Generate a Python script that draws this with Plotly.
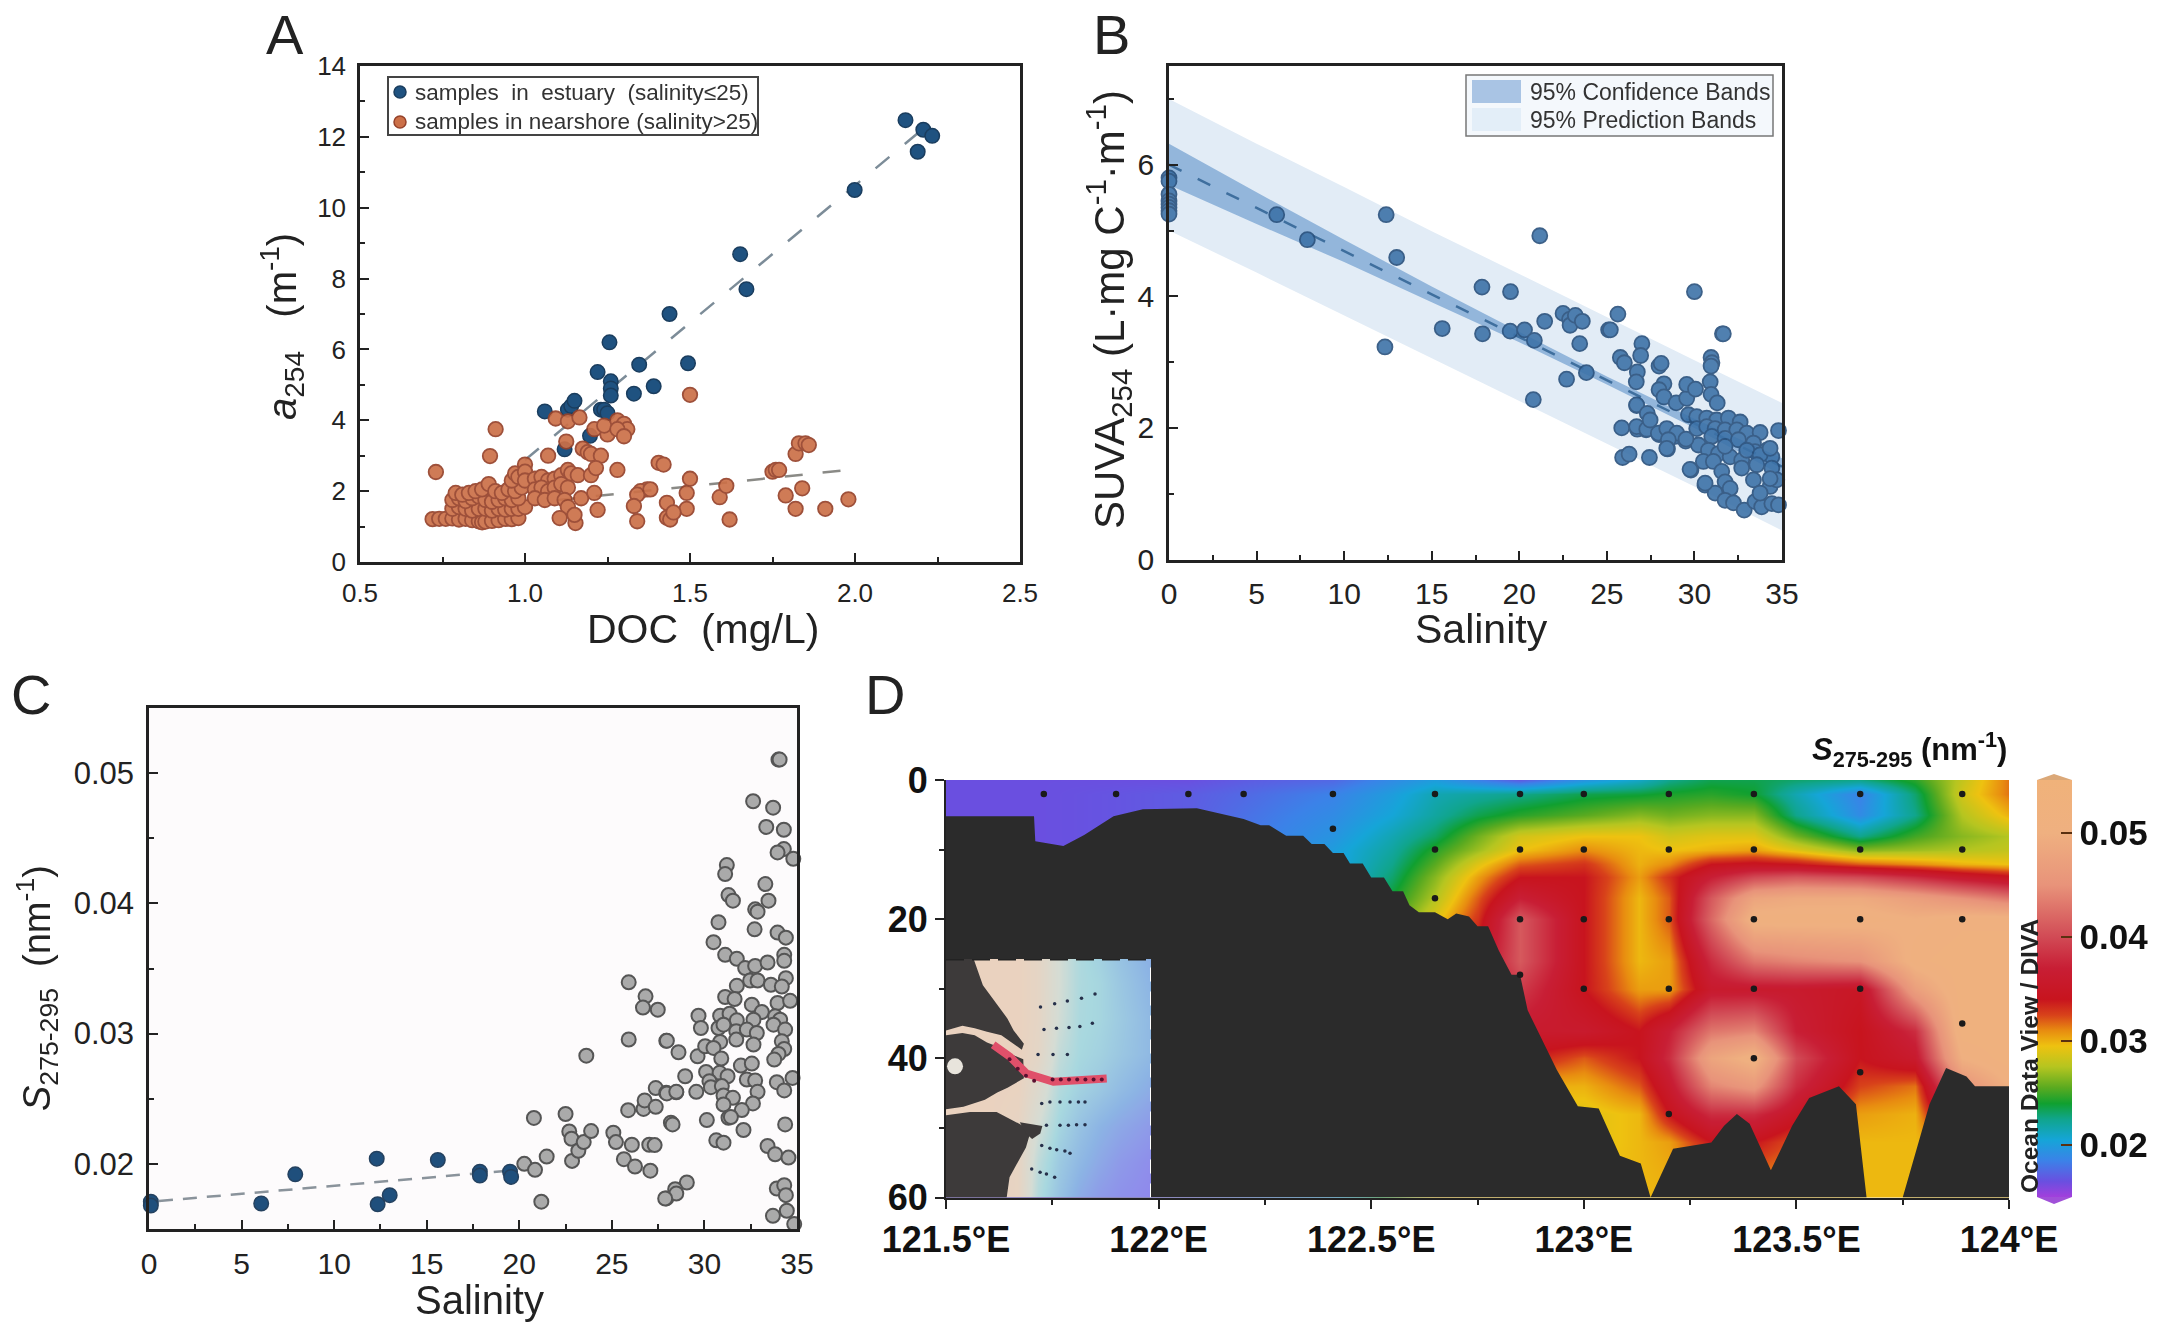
import plotly.graph_objects as go

W, H = 2162, 1330
FONT = "Liberation Sans"
INK = "#222222"

# panel A
est_doc = [1.06,1.13,1.14,1.15,1.12,1.197,1.22,1.256,1.26,1.26,1.26,1.23,1.24,1.25,1.33,1.346,1.39,1.438,1.494,1.652,1.671,1.999,2.153,2.19,2.207,2.234]
est_a254 = [4.25,4.3,4.4,4.55,3.18,3.56,5.36,6.2,5.1,4.9,4.7,4.3,4.3,4.2,4.75,5.57,4.96,7.0,5.61,8.69,7.7,10.5,12.47,11.58,12.2,12.03]
near_doc = [.72,.74,.76,.78,.80,.82,.84,.86,.87,.88,.9,.92,.94,.96,.98,
            .78,.8,.82,.84,.86,.88,.9,.92,.94,.96,.98,1.0,
            .78,.8,.82,.84,.86,.88,.9,.92,.94,.96,.98,
            .79,.81,.83,.85,.87,.89,.91,.93,.95,.97,.99,
            .96,.97,.98,1.0,1.0,1.0,
            1.03,1.05,1.07,1.09,1.11,1.13,1.14,1.16,1.2,
            1.03,1.05,1.07,1.09,1.11,1.13,
            1.03,1.06,1.09,1.12,1.13,
            1.105,1.153,1.15,1.17,1.21,1.22,
            1.093,1.13,1.165,1.21,1.25,1.24,1.28,1.3,1.31,1.28,1.3,
            1.125,1.07,1.175,1.19,1.2,1.23,1.215,1.28,1.405,1.42,
            1.5,1.5,1.49,1.49,1.37,1.35,1.34,1.38,1.33,1.34,
            1.43,1.43,1.44,1.45,1.59,1.61,1.62,1.75,1.76,1.77,
            1.79,1.82,1.84,1.82,1.83,1.85,1.86,1.91,1.98,.911,.894,.73]
near_a254 = [1.21,1.22,1.22,1.23,1.2,1.22,1.18,1.15,1.12,1.14,1.16,1.18,1.22,1.21,1.24,
             1.5,1.55,1.5,1.45,1.5,1.5,1.45,1.5,1.48,1.5,1.5,1.55,
             1.75,1.8,1.72,1.8,1.85,1.75,1.7,1.75,1.8,1.75,1.8,
             1.95,1.9,1.95,2.0,2.05,2.2,2.0,1.95,2.05,2.0,2.1,
             2.3,2.5,2.4,2.75,2.55,2.3,
             2.35,2.4,2.3,2.35,2.45,2.6,2.5,2.45,2.45,
             2.05,2.1,2.0,2.1,2.2,2.1,
             1.8,1.75,1.8,1.75,1.55,
             1.24,1.1,1.33,1.8,1.95,1.47,
             4.05,3.97,4.08,3.75,3.6,3.85,4.0,3.9,3.75,3.75,3.55,
             3.4,3.0,3.2,3.1,3.05,3.0,2.65,2.6,2.8,2.75,
             4.72,2.35,1.95,1.5,2.05,2.0,1.9,2.05,1.58,1.15,
             1.67,1.25,1.2,1.4,1.83,2.15,1.2,2.55,2.6,2.6,
             1.88,1.5,2.08,3.05,3.35,3.35,3.3,1.5,1.77,3.75,2.99,2.54]
fit_a_est_x = [1.0, 2.19]
fit_a_est_y = [2.88, 12.1]
fit_a_near_x = [1.1, 1.97]
fit_a_near_y = [1.75, 2.59]

# panel B
suva_sal = [0,0,0,0,0,0,0,0,6.15,7.9,12.4,12.33,13.0,15.6,17.87,17.9,19.5,19.48,20.3,20.86,20.8,21.17,21.45,22.5,22.87,22.9,23.2,23.6,23.45,22.7,23.83,25.1,25.2,25.63,25.77,26.0,25.85,25.9,26.27,26.74,27.24,26.7,27.0,26.93,26.74,26.68,27.43,27.98,28.1,28.26,27.98,28.26,27.98,28.46,28.9,28.96,29.56,29.56,30.06,29.5,30.0,29.8,30.6,30.95,31.0,30.95,30.9,30.95,31.3,31.6,31.65,
            29.66,30.13,30.70,31.27,31.94,32.61,30.13,30.70,31.18,31.75,32.42,32.99,33.75,34.80,30.99,31.75,32.51,33.37,30.23,30.80,31.37,32.04,32.70,33.46,34.13,34.42,31.75,32.99,33.75,34.32,33.56,34.42,32.70,33.37,34.32,34.70,34.32,30.51,31.08,31.56,31.75,32.04,31.18,31.75,32.23,32.84,33.46,33.84,33.75,34.42,34.80,30.61,29.75,26.70,27.28,27.94,28.42,28.99,29.52,28.51,28.42,26.70,27.31,27.47]
suva_val = [5.8,5.75,5.55,5.45,5.4,5.35,5.3,5.25,5.24,4.86,5.24,3.23,4.59,3.51,4.14,3.43,4.07,3.47,3.49,3.33,2.43,4.92,3.62,3.74,3.65,3.56,3.71,3.62,3.28,2.74,2.84,3.49,3.49,3.73,3.07,2.99,2.0,1.55,1.6,1.98,1.97,2.34,3.28,3.1,2.85,2.7,1.55,2.94,2.98,2.67,2.58,2.47,1.9,1.68,1.87,2.38,2.45,2.66,2.59,1.8,4.07,1.36,1.13,3.07,2.99,2.94,2.7,2.51,2.38,3.43,3.43,
            2.20,2.17,2.15,2.12,2.15,2.09,1.99,2.02,1.99,1.97,1.97,1.92,1.93,1.96,1.87,1.84,1.82,1.77,1.74,1.66,1.61,1.56,1.51,1.64,1.66,1.56,1.72,1.66,1.59,1.69,1.44,1.39,1.39,1.21,1.11,1.21,1.23,1.49,1.49,1.34,1.18,1.08,1.01,.90,.86,.75,.88,.80,1.01,.85,.83,1.16,1.37,2.02,1.98,1.92,1.99,1.92,1.83,1.82,1.69,2.35,2.22,2.12]
band_sal = [0,5,10,15,20,25,30,35]
fit_suva = [6.0,5.34,4.69,4.03,3.38,2.72,2.07,1.41]
conf_high = [6.32,5.58,4.86,4.15,3.46,2.78,2.14,1.54]
conf_low = [5.69,5.10,4.52,3.91,3.30,2.66,2.00,1.28]
pred_high = [7.00,6.32,5.66,4.99,4.34,3.68,3.03,2.38]
pred_low = [5.00,4.36,3.72,3.07,2.42,1.76,1.11,.44]

# panel C
blue_sal = [.1,.1,6.06,7.9,12.3,12.35,13.0,15.6,17.87,17.87,19.5,19.56]
blue_s = [.0171,.0168,.01696,.0192,.0204,.0169,.0176,.0203,.0194,.0191,.0194,.0190]
gray_sal = [20.27,20.85,20.79,21.19,21.48,22.5,22.7,22.82,22.85,23.19,23.48,23.62,23.88,25.08,25.22,25.65,25.88,25.91,25.91,26.08,26.25,26.71,26.77,26.82,26.68,27.08,27.02,27.31,27.37,27.48,27.37,27.94,27.94,27.94,28.48,
            31.21,31.12,31.30,31.54,33.29,33.46,32.74,32.87,30.76,32.71,33.95,34.40,30.49,31.12,31.75,32.2,32.74,33.41,34.31,34.31,32.47,32.87,31.75,33.59,34.40,34.18,31.12,31.63,32.56,33.10,33.95,34.63,29.68,29.81,30.85,31.36,31.75,32.65,33.82,34.09,33.73,30.76,31.03,31.72,32.29,32.83,34.36,31.72,32.65,30.85,34.18,34.31,34.0,33.77,
            27.97,28.6,29.63,30.04,30.49,30.91,31.97,32.56,28.96,30.09,30.82,31.25,32.29,32.74,33.91,34.76,30.27,30.35,29.56,30.94,34.31,32.87,27.97,28.48,31.03,31.54,31.03,32.62,32.02,31.3,31.43,30.13,34.36,28.19,28.28,32.11,30.64,31.03,33.41,33.82,34.54,29.05,28.42,28.48,27.88,33.91,34.31,34.4,34.45,33.7,34.85,
            32.63,33.71,33.34,34.29,34.0,34.06,34.29,33.95,34.8]
gray_s = [.0200,.01954,.02353,.0171,.02056,.02383,.02249,.02193,.02023,.02101,.02167,.02831,.02252,.02239,.02167,.02036,.02412,.03394,.02955,.02147,.0198,.02422,.02487,.03286,.032,.01948,.02147,.02144,.02438,.03184,.02582,.02945,.01735,.02546,.0255,
          .04294,.04225,.04064,.04021,.04148,.04021,.03954,.03936,.03855,.03801,.03776,.03737,.03702,.03605,.03574,.03503,.0352,.03546,.03605,.03559,.03408,.03408,.03367,.03375,.03426,.03362,.03281,.03265,.03222,.03166,.03235,.03252,.03138,.03043,.03138,.03153,.03102,.03107,.03133,.03107,.03069,.03043,.03069,.03018,.03031,.03005,.03031,.02954,.02916,.02936,.02941,.02882,.02844,.02801,
          .02946,.02857,.02826,.02903,.0289,.02809,.02755,.0277,.02673,.02706,.02699,.02673,.02648,.0264,.02627,.0266,.02635,.02589,.02553,.02597,.02564,.02553,.02541,.02553,.02525,.02507,.02456,.02464,.02413,.02354,.0236,.02336,.02303,.02316,.02303,.0226,.02181,.02163,.02137,.02074,.02048,.01857,.01806,.01772,.01734,.01811,.01836,.0176,.0164,.01601,.01538,
          .04784,.04735,.04587,.04565,.05104,.05104,.04417,.04391,.04342]
fit_c_x = [.54, 19.4]
fit_c_y = [.01715, .01948]

# panel D section
sec_lon = [121.5,121.73,121.9,122.07,122.2,122.41,122.55,122.65,122.75,122.85,123.0,123.13,123.2,123.3,123.4,123.5,123.65,123.78,123.89,124.0]
sec_depth = [0,2,5,8,10,12,14,17,20,26,30,36,40,44,48,52,60]
sec_s = [
    [.0165,.0165,.0165,.0165,.017,.0175,.019,.020,.0185,.017,.0195,.021,.0225,.0235,.0235,.023,.0225,.0245,.028,.0315],
    [.0165,.0165,.0167,.017,.0175,.0185,.020,.0215,.022,.0225,.0235,.0238,.0242,.0245,.024,.0215,.0185,.023,.0285,.0315],
    [.0165,.0165,.0167,.017,.0178,.019,.0205,.022,.0235,.0245,.0255,.0265,.026,.0265,.0265,.0225,.019,.0225,.0275,.030],
    [.0165,.0165,.0167,.017,.018,.0195,.0215,.0232,.026,.0285,.0295,.0295,.0285,.029,.029,.026,.0225,.025,.0265,.0275],
    [.0165,.0165,.0167,.017,.018,.020,.022,.0245,.027,.0295,.031,.0298,.0295,.03,.0305,.029,.0265,.027,.0275,.028],
    [.0165,.0165,.0167,.017,.018,.020,.0225,.0255,.029,.032,.033,.030,.031,.034,.0345,.034,.032,.031,.030,.0295],
    [.0165,.0165,.0167,.017,.018,.020,.023,.0265,.0305,.034,.034,.0305,.033,.037,.040,.041,.040,.038,.036,.0345],
    [.0165,.0165,.0167,.017,.018,.020,.024,.0275,.032,.037,.034,.0298,.032,.041,.048,.049,.049,.047,.045,.043],
    [.0165,.0165,.0167,.017,.018,.020,.025,.029,.033,.041,.034,.0298,.032,.042,.051,.051,.051,.050,.051,.051],
    [.0165,.0165,.0167,.017,.018,.020,.025,.03,.035,.041,.034,.0298,.0305,.038,.043,.044,.045,.051,.052,.052],
    [.0165,.0165,.0167,.017,.018,.020,.025,.03,.035,.039,.034,.0305,.0305,.036,.036,.036,.035,.047,.052,.052],
    [.0165,.0165,.0167,.017,.018,.020,.025,.03,.034,.036,.036,.034,.037,.043,.044,.037,.034,.038,.052,.052],
    [.0165,.0165,.0167,.017,.018,.020,.025,.03,.033,.034,.032,.034,.038,.048,.051,.04,.034,.036,.05,.052],
    [.0165,.0165,.0167,.017,.018,.020,.025,.03,.03,.03,.03,.032,.036,.044,.046,.038,.0325,.0315,.045,.05],
    [.0165,.0165,.0167,.017,.018,.020,.025,.029,.029,.029,.029,.0298,.034,.038,.038,.035,.0305,.030,.04,.04],
    [.0165,.0165,.0167,.017,.018,.020,.025,.029,.029,.029,.029,.0298,.0305,.034,.034,.032,.0298,.0298,.03,.03],
    [.0165,.0165,.0167,.017,.018,.020,.025,.0298,.0298,.0298,.0298,.0298,.0298,.0298,.0298,.0298,.0298,.0298,.0298,.0298],
]
sec_colors = [[0,"#a23fdc"],[.037,"#6a4fe0"],[.087,"#3b82e8"],[.137,"#15a5d8"],[.187,"#10a58c"],[.224,"#10a030"],
              [.262,"#5aaa20"],[.312,"#b5c520"],[.362,"#eec210"],[.399,"#e88c10"],[.436,"#d8421a"],[.474,"#c8141e"],
              [.549,"#c81e35"],[.623,"#d14a55"],[.748,"#e8937a"],[.873,"#efb080"],[1,"#f0b27a"]]
seabed_lon = [121.5,121.707,121.71,121.776,121.825,121.894,121.963,122.09,122.2,122.24,122.26,122.3,122.34,122.36,122.39,122.41,122.435,122.45,122.48,122.5,122.53,122.55,122.575,122.59,122.612,122.65,122.68,122.7,122.73,122.75,122.775,122.8,122.83,122.85,122.868,122.937,122.986,123.035,123.085,123.134,123.157,123.21,123.3,123.33,123.36,123.39,123.44,123.49,123.53,123.6,123.64,123.665,123.75,123.813,123.852,123.9,123.92,124,124,121.5]
seabed_depth = [5.2,5.2,8.8,9.5,7.9,5.2,4.2,4.05,5.6,6.5,6.5,8,8,9.2,9.2,10.5,10.5,12,12,14,14,16,16,18,19,19,20,19.2,19.6,21,21,24.5,28,28,33.1,41.7,46.9,47.2,54,55.1,60,53,52.1,49.7,48,49.4,56.1,49.7,45.7,44,46.6,60,60,46.6,41.4,42.6,44,44,60,60]
stn_lon = [121.73,121.9,122.07,122.2,122.41,122.65,122.85,123.0,123.2,123.4,123.65,123.89,122.41,122.65,122.85,123.0,123.2,123.4,123.65,123.89,122.65,122.85,123.0,123.2,123.4,123.65,123.89,122.85,123.0,123.2,123.4,123.65,123.89,123.4,123.65,123.2]
stn_depth = [2,2,2,2,2,2,2,2,2,2,2,2,7,10,10,10,10,10,10,10,17,20,20,20,20,20,20,28,30,30,30,30,35,40,42,48]

# inset map, in percent of the inset box
map_u = [0,20,35,45,55,65,75,85,100]
map_v = [0,15,30,45,60,75,90,100]
map_shade = [
    [0,0,.05,.45,.65,.8,.9,.95,1],
    [0,0,.05,.4,.6,.72,.82,.9,.97],
    [0,0,.05,.3,.52,.65,.75,.82,.9],
    [0,0,.02,.2,.45,.55,.62,.7,.8],
    [0,0,0,.1,.38,.5,.55,.62,.72],
    [0,0,0,.08,.32,.48,.52,.6,.72],
    [0,0,0,.08,.3,.47,.52,.62,.75],
    [0,0,0,.08,.3,.47,.55,.65,.78],
]
map_colors = [[0,"#ead2bf"],[.3,"#d5dcd4"],[.5,"#a8d8df"],[.75,"#8cb4e4"],[1,"#8f88ec"]]
north_u = [0,13.5,18,24,30,33,38,37,30,27,20,14,8,0]
north_v = [100,100,89,82,75,70,64.5,62,66,68,69.5,71,72,70]
mid_u = [0,8,14,20,26,32,37.7,38,30,25,19,8.5,0]
mid_v = [68,69,68,65,63,60,58,50,46,44,41,38,37]
south_u = [0,11.7,24.7,37.7,41,39,31,29.6,0]
south_v = [34.5,35.9,35.9,30,26.8,21,8.5,0,0]
islet_u = [36,47,46,42,39]
islet_v = [31.6,30,26.8,24.5,26.8]
lake_u = [4.4]
lake_v = [55]
red_u = [23,31.2,39.3,52.4,78.4]
red_v = [64,59,52,48.5,49.9]
dot_u = [46.1,53,59.2,66.1,72.7,47.8,53.9,60,65.3,71.4,44.9,52.2,59.2,
         46.7,50.7,55.6,60.5,64.6,67.8,49,55.6,59.7,63.7,67.8,46.7,50.7,54,58,60.5,41.8,45.9,49,53]
dot_v = [79.9,81.2,82.4,83.5,85.3,70.4,71,71.3,71.7,73.1,60,60,60,
         39.4,40,40,40,40,40,30.3,30.3,30.3,30.5,30.5,21.8,20.7,20,19.5,18.6,12,10.6,9.9,8.5]
red_dot_u = [31,35,39,43,52,56,60,64,68,72,76]
red_dot_v = [58,54,51,49,49.5,49.5,49.5,49.5,49.5,49.5,49.5]


def px(x):
    return x / W


def py(y):
    return 1 - y / H


def note(text, x, y, size, angle=0, color=INK, anchor="center"):
    return dict(text=text, x=px(x), y=py(y), xref="paper", yref="paper", showarrow=False, textangle=angle,
                xanchor=anchor, yanchor="middle", font=dict(family=FONT, size=size, color=color))


fig = go.Figure()

# A
fig.add_trace(go.Scatter(x=fit_a_est_x, y=fit_a_est_y, mode="lines", line=dict(color="#7c8c98", width=2.5, dash="18px,20px")))
fig.add_trace(go.Scatter(x=fit_a_near_x, y=fit_a_near_y, mode="lines", line=dict(color="#8a8a86", width=2.5, dash="18px,20px")))
fig.add_trace(go.Scatter(x=est_doc, y=est_a254, mode="markers",
                         marker=dict(size=14.5, color="#1f5280", line=dict(color="#1a3d5e", width=1.5))))
fig.add_trace(go.Scatter(x=near_doc, y=near_a254, mode="markers", opacity=.92,
                         marker=dict(size=14.5, color="#cc7048", line=dict(color="#96422a", width=1.8))))

# B
fig.add_trace(go.Scatter(x=band_sal + band_sal[::-1], y=pred_high + pred_low[::-1], mode="lines", fill="toself",
                         fillcolor="#e2ecf6", line=dict(width=0), xaxis="x2", yaxis="y2"))
fig.add_trace(go.Scatter(x=band_sal + band_sal[::-1], y=conf_high + conf_low[::-1], mode="lines", fill="toself",
                         fillcolor="#93b6db", line=dict(width=0), xaxis="x2", yaxis="y2"))
fig.add_trace(go.Scatter(x=band_sal, y=fit_suva, mode="lines", line=dict(color="#3f6f9e", width=2.5, dash="14px,18px"),
                         xaxis="x2", yaxis="y2"))
fig.add_trace(go.Scatter(x=suva_sal, y=suva_val, mode="markers", opacity=.9, cliponaxis=False,
                         marker=dict(size=15, color="#3d72a8", line=dict(color="#28507c", width=1.8)),
                         xaxis="x2", yaxis="y2"))

# C
fig.add_trace(go.Scatter(x=gray_sal, y=gray_s, mode="markers", cliponaxis=False,
                         marker=dict(size=14, color="#aaaaaa", line=dict(color="#555555", width=2)),
                         xaxis="x3", yaxis="y3"))
fig.add_trace(go.Scatter(x=fit_c_x, y=fit_c_y, mode="lines", line=dict(color="#8a939b", width=2.5, dash="14px,10px"),
                         xaxis="x3", yaxis="y3"))
fig.add_trace(go.Scatter(x=blue_sal, y=blue_s, mode="markers", cliponaxis=False,
                         marker=dict(size=14.5, color="#1f4f7c", line=dict(color="#24415f", width=1.5)),
                         xaxis="x3", yaxis="y3"))

# D
fig.add_trace(go.Heatmap(x=sec_lon, y=sec_depth, z=sec_s, zsmooth="best", zmin=.015, zmax=.0551, colorscale=sec_colors,
                         colorbar=dict(x=px(2037), xanchor="left", y=py(780), yanchor="top", len=417 / H, thickness=35,
                                       outlinewidth=0, xpad=0, ypad=0, tickvals=[.02, .03, .04, .05],
                                       ticktext=["0.02", "0.03", "0.04", "0.05"], ticks="inside", ticklen=11,
                                       tickwidth=2, tickcolor="#5a3010",
                                       tickfont=dict(family=FONT, size=35, color="#111111", weight=700)),
                         xaxis="x4", yaxis="y4"))
fig.add_trace(go.Scatter(x=seabed_lon, y=seabed_depth, mode="lines", fill="toself", fillcolor="#2b2b2b",
                         line=dict(width=0, color="#2b2b2b"), xaxis="x4", yaxis="y4"))
fig.add_trace(go.Scatter(x=stn_lon, y=stn_depth, mode="markers", marker=dict(size=6.5, color="#1a1a1a"),
                         xaxis="x4", yaxis="y4"))

# inset map
fig.add_trace(go.Heatmap(x=map_u, y=map_v, z=map_shade, zsmooth="best", zmin=0, zmax=1, colorscale=map_colors,
                         showscale=False, xaxis="x5", yaxis="y5"))
for land_u, land_v in [(north_u, north_v), (mid_u, mid_v), (south_u, south_v), (islet_u, islet_v)]:
    fig.add_trace(go.Scatter(x=land_u, y=land_v, mode="lines", fill="toself", fillcolor="#3d3a3a",
                             line=dict(width=0, color="#3d3a3a"), xaxis="x5", yaxis="y5"))
fig.add_trace(go.Scatter(x=lake_u, y=lake_v, mode="markers", marker=dict(size=16, color="#e8e4dc"), xaxis="x5", yaxis="y5"))
fig.add_trace(go.Scatter(x=red_u, y=red_v, mode="lines", line=dict(color="#e0506a", width=8), xaxis="x5", yaxis="y5"))
fig.add_trace(go.Scatter(x=red_dot_u, y=red_dot_v, mode="markers", marker=dict(size=4, color="#5a1030"), xaxis="x5", yaxis="y5"))
fig.add_trace(go.Scatter(x=dot_u, y=dot_v, mode="markers", marker=dict(size=3.5, color="#26304a"), xaxis="x5", yaxis="y5"))
fig.add_trace(go.Scatter(x=[0, 100], y=[100, 100], mode="lines", line=dict(color="#222222", width=3, dash="18px,8px"),
                         cliponaxis=False, xaxis="x5", yaxis="y5"))
fig.add_trace(go.Scatter(x=[100, 100], y=[0, 100], mode="lines", line=dict(color="#ffffff", width=2, dash="14px,10px"),
                         cliponaxis=False, xaxis="x5", yaxis="y5"))

frame = dict(showline=True, linecolor=INK, linewidth=2.5, mirror=True, showgrid=False, zeroline=False, ticks="inside",
             ticklen=9, tickwidth=2, tickcolor=INK, ticklabelstandoff=6, automargin=False)
minor_tick = dict(ticks="inside", ticklen=5, tickwidth=2, tickcolor=INK, showgrid=False)
open_axis = dict(showline=True, linecolor=INK, linewidth=2, showgrid=False, zeroline=False, ticks="outside", ticklen=9,
                 tickwidth=2, tickcolor=INK, automargin=False)
bold = dict(family=FONT, size=36, color="#111111", weight=700)

fig.update_layout(
    width=W, height=H, showlegend=False, margin=dict(l=0, r=0, t=0, b=0, autoexpand=False),
    paper_bgcolor="white", plot_bgcolor="rgba(0,0,0,0)", font=dict(family=FONT, color=INK),
    xaxis=dict(domain=[px(360), px(1020)], range=[.5, 2.5], anchor="y", tickvals=[.5, 1, 1.5, 2, 2.5],
               ticktext=["0.5", "1.0", "1.5", "2.0", "2.5"], tickfont=dict(size=26),
               minor=dict(dtick=.25, **minor_tick), **frame),
    yaxis=dict(domain=[py(562), py(66)], range=[0, 14], anchor="x", dtick=2, tickfont=dict(size=26),
               minor=dict(dtick=1, **minor_tick), **frame),
    xaxis2=dict(domain=[px(1169), px(1782)], range=[0, 35], anchor="y2", dtick=5, tickfont=dict(size=30),
                minor=dict(dtick=2.5, **minor_tick), **frame),
    yaxis2=dict(domain=[py(559.5), py(66)], range=[0, 7.5], anchor="x2", dtick=2, tickfont=dict(size=30),
                minor=dict(dtick=1, **minor_tick), **frame),
    xaxis3=dict(domain=[px(149), px(797)], range=[0, 35], anchor="y3", dtick=5, tickfont=dict(size=30),
                minor=dict(dtick=2.5, **minor_tick), **frame),
    yaxis3=dict(domain=[py(1229), py(708)], range=[.015, .055], anchor="x3", tickvals=[.02, .03, .04, .05],
                ticktext=["0.02", "0.03", "0.04", "0.05"], tickfont=dict(size=31),
                minor=dict(dtick=.005, **minor_tick), **frame),
    xaxis4=dict(domain=[px(946), px(2009)], range=[121.5, 124], anchor="y4", tickvals=[121.5, 122, 122.5, 123, 123.5, 124],
                ticktext=["121.5°E", "122°E", "122.5°E", "123°E", "123.5°E", "124°E"], tickfont=bold,
                minor=dict(dtick=.25, ticks="outside", ticklen=5, tickwidth=2, tickcolor=INK, showgrid=False), **open_axis),
    yaxis4=dict(domain=[py(1197.5), py(780)], range=[60, 0], anchor="x4", tickvals=[0, 20, 40, 60], tickfont=bold,
                minor=dict(dtick=10, ticks="outside", ticklen=5, tickwidth=2, tickcolor=INK, showgrid=False), **open_axis),
    xaxis5=dict(domain=[px(946), px(1151)], range=[0, 100], anchor="y5", visible=False),
    yaxis5=dict(domain=[py(1197.5), py(959)], range=[0, 100], anchor="x5", visible=False),
)

legend_edge = dict(xref="paper", yref="paper", layer="above")
fig.update_layout(shapes=[
    dict(type="rect", xref="paper", yref="paper", layer="below", x0=px(149), x1=px(797), y0=py(1229), y1=py(708),
         line=dict(width=0), fillcolor="#fdfbfc"),
    dict(type="rect", x0=px(388), x1=px(758), y0=py(77), y1=py(135), line=dict(color="#444444", width=2), fillcolor="white", **legend_edge),
    dict(type="circle", x0=px(394), x1=px(406), y0=py(86), y1=py(98), line=dict(color="#1a3d5e", width=1.5), fillcolor="#1f5280", **legend_edge),
    dict(type="circle", x0=px(394), x1=px(406), y0=py(116), y1=py(128), line=dict(color="#96422a", width=1.5), fillcolor="#cc7048", **legend_edge),
    dict(type="rect", x0=px(1466), x1=px(1773), y0=py(75), y1=py(136), line=dict(color="#777777", width=1.5), fillcolor="#f4f8fc", **legend_edge),
    dict(type="rect", x0=px(1472), x1=px(1521), y0=py(80), y1=py(103), line=dict(width=0), fillcolor="#a9c4e4", **legend_edge),
    dict(type="rect", x0=px(1472), x1=px(1521), y0=py(108), y1=py(131), line=dict(width=0), fillcolor="#e3eef8", **legend_edge),
    dict(type="path", path=f"M {px(2037)},{py(780)} L {px(2054)},{py(774)} L {px(2072)},{py(780)} Z",
         line=dict(width=0), fillcolor="#dba878", **legend_edge),
    dict(type="path", path=f"M {px(2037)},{py(1197)} L {px(2054)},{py(1204)} L {px(2072)},{py(1197)} Z",
         line=dict(width=0), fillcolor="#a050d8", **legend_edge),
])

fig.update_layout(annotations=[
    note("A", 285, 34, 56), note("B", 1111, 34, 56), note("C", 31, 694, 56), note("D", 885, 694, 56),
    note("samples\u00a0\u00a0in\u00a0\u00a0estuary\u00a0\u00a0(salinity≤25)", 413, 92, 22.5, color="#333333", anchor="left"),
    note("samples\u00a0in\u00a0nearshore\u00a0(salinity&gt;25)", 413, 122, 22.5, color="#333333", anchor="left"),
    note("95% Confidence Bands", 1528, 92, 23, color="#333333", anchor="left"),
    note("95% Prediction Bands", 1528, 120, 23, color="#333333", anchor="left"),
    note("DOC\u00a0\u00a0(mg/L)", 703, 629, 41),
    note("<i>a</i><sub>254</sub>\u00a0\u00a0\u00a0(m<sup>-1</sup>)", 282, 327, 40, angle=-90),
    note("Salinity", 1481, 629, 41),
    note("SUVA<sub>254</sub> (L·mg C<sup>-1</sup>·m<sup>-1</sup>)", 1109, 310, 42, angle=-90),
    note("Salinity", 479, 1300, 40),
    note("<i>S</i><sub>275-295</sub>\u00a0\u00a0(nm<sup>-1</sup>)", 37, 988, 38, angle=-90),
    note("<b><i>S</i><sub>275-295</sub> (nm<sup>-1</sup>)</b>", 2009, 749, 31, color="#111111", anchor="right"),
    note("<b>Ocean Data View / DIVA</b>", 2029, 1056, 24.5, angle=-90, color="#222222"),
])

fig.write_html("out.html", config={"displayModeBar": False}, post_script="document.body.style.margin='0';")
